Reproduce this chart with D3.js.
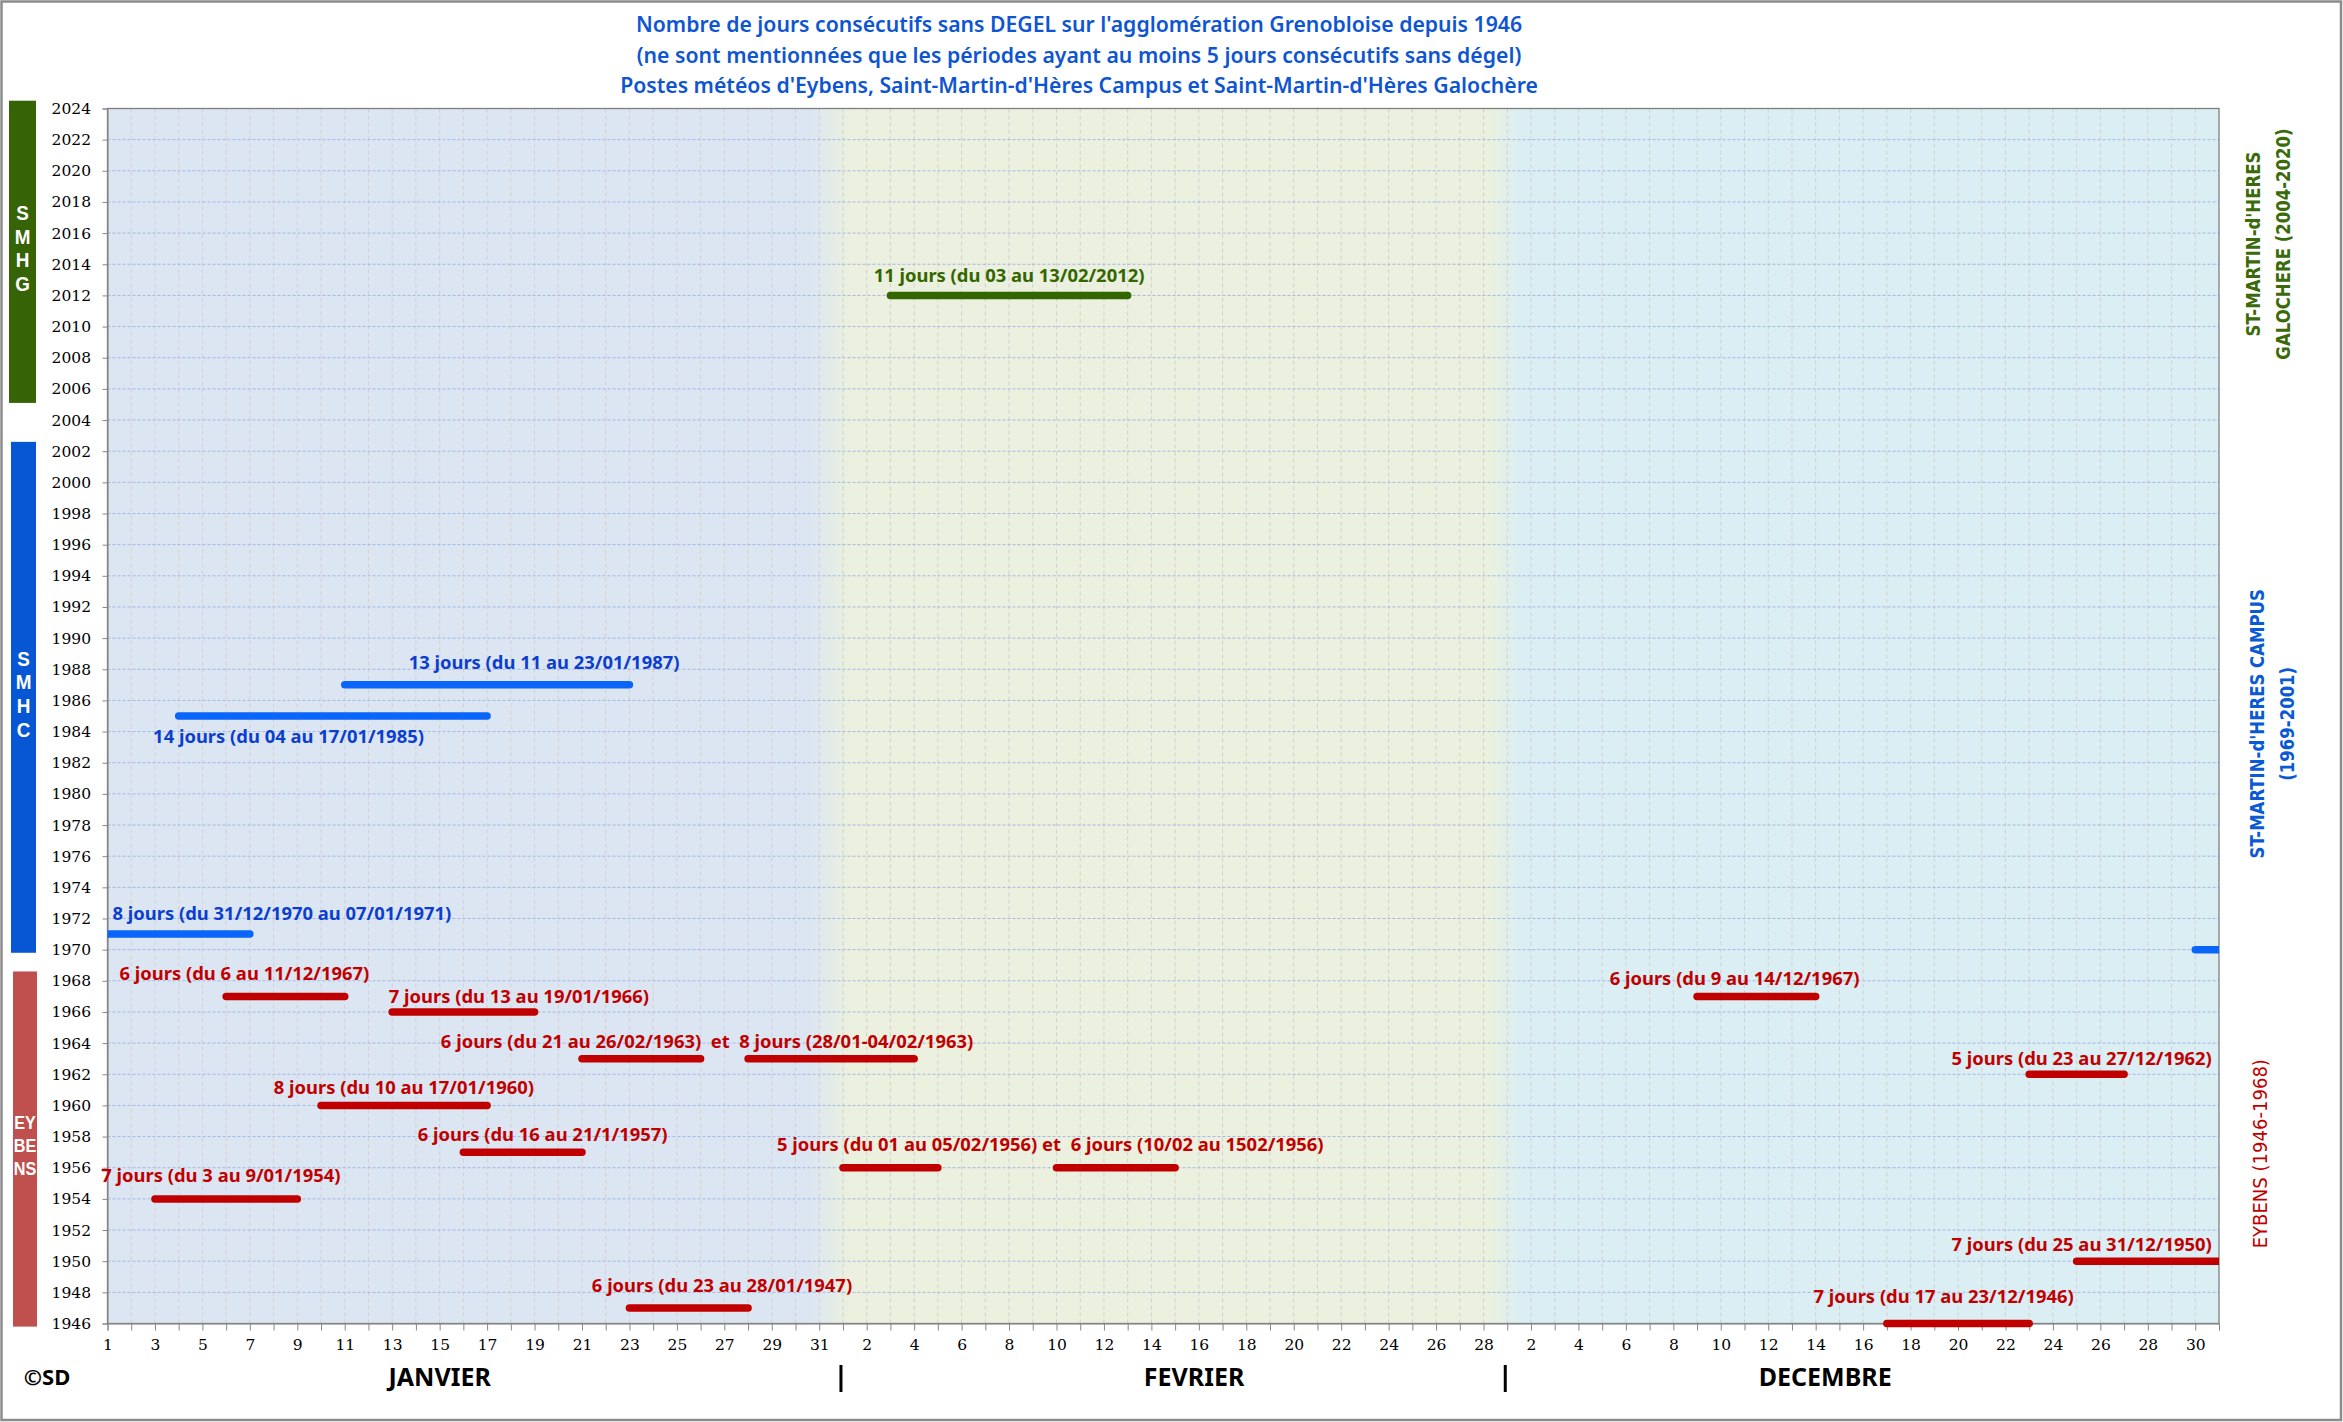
<!DOCTYPE html>
<html><head><meta charset="utf-8">
<script src="https://cdn.jsdelivr.net/npm/d3@7"></script>
<style>body{margin:0;background:#fff;} svg{display:block;} text{white-space:pre;}</style>
</head><body>
<svg id="chart" width="2343" height="1422"></svg>
<script>
// ---------------- DATA ----------------
const titleLines = [
  "Nombre de jours consécutifs sans DEGEL sur l'agglomération Grenobloise depuis 1946",
  "(ne sont mentionnées que les périodes ayant au moins 5 jours consécutifs sans dégel)",
  "Postes météos d'Eybens, Saint-Martin-d'Hères Campus et Saint-Martin-d'Hères Galochère"
];
const monthCodes = ["01", "02", "12"];
const monthNames = ["JANVIER", "FEVRIER", "DECEMBRE"];
const monthDays = [31, 28, 31];
const yearTicks = d3.range(1946, 2025, 2);

const stationCodes = ["SMHG", "SMHC", "EYBENS"];
const stationLetters = [["S", "M", "H", "G"], ["S", "M", "H", "C"], ["EY", "BE", "NS"]];
const stationNames = [
  ["ST-MARTIN-d'HERES", "GALOCHERE (2004-2020)"],
  ["ST-MARTIN-d'HERES CAMPUS", "(1969-2001)"],
  ["EYBENS (1946-1968)"]
];
const stationSpan = [[2005.1, 2024.5], [1969.8, 2002.6], [1945.8, 1968.6]];
const stationNameYear = [2015.3, 1984.5, 1956.9];

const smhgPeriods = [
  {year: 2012, from: "02-03", to: "02-13"}
];
const smhcPeriods = [
  {year: 1987, from: "01-11", to: "01-23"},
  {year: 1985, from: "01-04", to: "01-17"},
  {year: 1971, from: "01-00", to: "01-07"},
  {year: 1970, from: "12-30", to: "12-31"}
];
const eybensPeriods = [
  {year: 1967, from: "01-06", to: "01-11"},
  {year: 1967, from: "12-09", to: "12-14"},
  {year: 1966, from: "01-13", to: "01-19"},
  {year: 1963, from: "01-21", to: "01-26"},
  {year: 1963, from: "01-28", to: "02-04"},
  {year: 1962, from: "12-23", to: "12-27"},
  {year: 1960, from: "01-10", to: "01-17"},
  {year: 1957, from: "01-16", to: "01-21"},
  {year: 1956, from: "02-01", to: "02-05"},
  {year: 1956, from: "02-10", to: "02-15"},
  {year: 1954, from: "01-03", to: "01-09"},
  {year: 1950, from: "12-25", to: "12-31"},
  {year: 1947, from: "01-23", to: "01-28"},
  {year: 1946, from: "12-17", to: "12-23"}
];

const smhgLabels = [
  {text: "11 jours (du 03 au 13/02/2012)", day: 38.0, year: 2013.25}
];
const smhcLabels = [
  {text: "13 jours (du 11 au 23/01/1987)", day: 18.4, year: 1988.42},
  {text: "14 jours (du 04 au 17/01/1985)", day: 7.63, year: 1983.67},
  {text: "8 jours (du 31/12/1970 au 07/01/1971)", day: 7.35, year: 1972.29}
];
const eybensLabels = [
  {text: "6 jours (du 6 au 11/12/1967)", day: 5.77, year: 1968.44},
  {text: "7 jours (du 13 au 19/01/1966)", day: 17.34, year: 1966.98},
  {text: "6 jours (du 21 au 26/02/1963)  et  8 jours (28/01-04/02/1963)", day: 25.27, year: 1964.09},
  {text: "8 jours (du 10 au 17/01/1960)", day: 12.49, year: 1961.14},
  {text: "6 jours (du 16 au 21/1/1957)", day: 18.34, year: 1958.1},
  {text: "7 jours (du 3 au 9/01/1954)", day: 4.78, year: 1955.53},
  {text: "5 jours (du 01 au 05/02/1956) et  6 jours (10/02 au 1502/1956)", day: 39.74, year: 1957.46},
  {text: "6 jours (du 23 au 28/01/1947)", day: 25.9, year: 1948.43},
  {text: "6 jours (du 9 au 14/12/1967)", day: 68.58, year: 1968.12},
  {text: "5 jours (du 23 au 27/12/1962)", day: 83.21, year: 1962.98},
  {text: "7 jours (du 25 au 31/12/1950)", day: 83.21, year: 1951.04},
  {text: "7 jours (du 17 au 23/12/1946)", day: 77.39, year: 1947.72}
];
const monthLabelDay = [14, 45.8, 72.4];
const copyrightText = "©SD";

// ---------------- LAYOUT / STYLE ----------------
const W = 2343, H = 1422;
const P = {l: 107.5, r: 2219, t: 108.5, b: 1323.5};
const sideBarColor = ["#366306", "#0757D4", "#C0504D"];
const barColor = ["#336600", "#0A66FA", "#C00000"];
const labelColor = ["#336600", "#0B3ECF", "#C00000"];
const nameColor = ["#3A6B0A", "#0A5AD6", "#C00000"];
const nameWeight = ["bold", "bold", "normal"];
const nameScale = [0.87, 0.87, 0.95];
const sideBarX = [[9, 36], [11, 36], [13, 37]];
const nameX = [2268, 2272, 2260];
const SANS = "'Noto Sans', 'Open Sans', sans-serif";
const SERIF = "'DejaVu Serif', 'Liberation Serif', serif";

const monthStart = {};
let acc = 0;
monthCodes.forEach((m, i) => { monthStart[m] = acc; acc += monthDays[i]; });
const totalDays = acc;
function dayIndex(s) { const [m, d] = s.split("-"); return monthStart[m] + (+d) - 1; }
function dayOfMonth(i) {
  for (let k = monthCodes.length - 1; k >= 0; k--) if (i >= monthStart[monthCodes[k]]) return i - monthStart[monthCodes[k]] + 1;
}

const x = d3.scaleLinear().domain([0, totalDays - 1]).range([P.l, P.r]);
const y = d3.scaleLinear().domain([1946, 2024]).range([P.b, P.t]);

const svg = d3.select("#chart");
svg.append("rect").attr("width", W).attr("height", H).attr("fill", "#fff");

const defs = svg.append("defs");
const grad = defs.append("linearGradient").attr("id", "bg").attr("gradientUnits", "userSpaceOnUse")
  .attr("x1", P.l).attr("x2", P.r).attr("y1", 0).attr("y2", 0);
[[0, "#DCE6F2"], [29.6, "#DCE6F2"], [31.3, "#EBF1DE"], [58.2, "#EBF1DE"], [59.6, "#DAEEF3"], [totalDays - 1, "#DAEEF3"]]
  .forEach(([d, c]) => grad.append("stop").attr("offset", (x(d) - P.l) / (P.r - P.l)).attr("stop-color", c));
defs.append("clipPath").attr("id", "clip").append("rect")
  .attr("x", P.l).attr("y", 0).attr("width", P.r - P.l).attr("height", P.b + 10);

function txt(g, str, px, py, o) {
  let tr = `translate(${px},${py})`;
  if (o.rotate) tr += ` rotate(${o.rotate})`;
  if (o.sx) tr += ` scale(${o.sx},1)`;
  return g.append("text").attr("transform", tr)
    .attr("text-anchor", o.anchor || "middle").attr("dy", o.dy || "0.35em")
    .style("font-family", o.font || SANS).style("font-size", o.size + "px")
    .style("font-weight", o.weight || "normal").attr("fill", o.color || "#000").text(str);
}

// title
titleLines.forEach((t, i) => txt(svg, t, 1079, 25 + i * 30.5, {size: 21.2, weight: 600, color: "#0E55D2"}));

// plot background
svg.append("rect").attr("x", P.l).attr("y", P.t).attr("width", P.r - P.l).attr("height", P.b - P.t).attr("fill", "url(#bg)");

// grid
const grid = svg.append("g");
grid.selectAll("line.v").data(d3.range(1, totalDays - 1)).join("line")
  .attr("x1", d => x(d)).attr("x2", d => x(d)).attr("y1", P.t).attr("y2", P.b)
  .attr("stroke", "#D3CFD0").attr("stroke-width", 1).attr("stroke-dasharray", "4,3");
grid.selectAll("line.h").data(yearTicks.slice(1, -1)).join("line")
  .attr("x1", P.l).attr("x2", P.r).attr("y1", d => y(d)).attr("y2", d => y(d))
  .attr("stroke", "#A3B7E7").attr("stroke-width", 1).attr("stroke-dasharray", "3,2");

// plot border
svg.append("rect").attr("x", P.l).attr("y", P.t).attr("width", P.r - P.l).attr("height", P.b - P.t)
  .attr("fill", "none").attr("stroke", "#7F7F7F").attr("stroke-width", 1.3);

// axes
const yAxis = svg.append("g").attr("transform", `translate(${P.l},0)`)
  .call(d3.axisLeft(y).tickValues(yearTicks).tickFormat(d3.format("d")).tickSize(5).tickPadding(11.5));
yAxis.selectAll("text").style("font-family", SERIF).style("font-size", "15.5px").attr("fill", "#000");
const xAxis = svg.append("g").attr("transform", `translate(0,${P.b})`)
  .call(d3.axisBottom(x).tickValues(d3.range(0, totalDays)).tickFormat(i => i % 2 === 0 ? dayOfMonth(i) : "").tickSize(7));
xAxis.selectAll("text").attr("y", 20.5).attr("dy", "0.36em").style("font-family", SERIF).style("font-size", "15.5px").attr("fill", "#000");
[yAxis, xAxis].forEach(a => { a.selectAll("path,line").attr("stroke", "#868686"); });

// month labels and separators
monthNames.forEach((m, i) => txt(svg, m, x(monthLabelDay[i]), 1377, {size: 25, weight: "bold"}));
monthCodes.slice(1).forEach(m => {
  const sx = x(monthStart[m]) - 2;
  svg.append("line").attr("x1", sx).attr("x2", sx).attr("y1", 1365).attr("y2", 1392)
    .attr("stroke", "#000").attr("stroke-width", 3);
});
txt(svg, copyrightText, 47, 1377, {size: 22, weight: "bold"});

// station side bars
stationCodes.forEach((s, i) => {
  const [a, b] = stationSpan[i];
  svg.append("rect").attr("x", sideBarX[i][0]).attr("width", sideBarX[i][1] - sideBarX[i][0])
    .attr("y", y(b)).attr("height", y(a) - y(b)).attr("fill", sideBarColor[i]);
  const letters = stationLetters[i];
  const cx = (sideBarX[i][0] + sideBarX[i][1]) / 2;
  const cy = (y(a) + y(b)) / 2 - 3.5;
  const step = letters.length === 4 ? 23.6 : 22.8;
  letters.forEach((L, k) => txt(svg, L, cx, cy + (k - (letters.length - 1) / 2) * step,
    {size: letters.length === 4 ? 21 : 18, weight: "bold", color: "#fff", font: "'Liberation Sans', Arial, sans-serif", sx: 0.9}));
  // right-side names
  const names = stationNames[i];
  names.forEach((n, k) => txt(svg, n, nameX[i] + (k - (names.length - 1) / 2) * 30, y(stationNameYear[i]),
    {size: 19, weight: nameWeight[i], color: nameColor[i], font: "'DejaVu Sans', Verdana, sans-serif", rotate: -90, sx: nameScale[i], dy: "0.36em"}));
});

// period bars
const bars = svg.append("g").attr("clip-path", "url(#clip)");
[smhgPeriods, smhcPeriods, eybensPeriods].forEach((arr, i) => {
  bars.selectAll(null).data(arr).join("line")
    .attr("x1", d => x(dayIndex(d.from))).attr("x2", d => x(dayIndex(d.to)))
    .attr("y1", d => y(d.year)).attr("y2", d => y(d.year))
    .attr("stroke", barColor[i]).attr("stroke-width", 7.5).attr("stroke-linecap", "round");
});

// period labels
[smhgLabels, smhcLabels, eybensLabels].forEach((arr, i) => {
  arr.forEach(d => txt(svg, d.text, x(d.day), y(d.year), {size: 18.4, weight: "bold", color: labelColor[i]}));
});

// outer frame
svg.append("rect").attr("x", 1.5).attr("y", 1.5).attr("width", W - 3.5).attr("height", H - 3.5)
  .attr("fill", "none").attr("stroke", "#8C8C8C").attr("stroke-width", 2.5);
</script>
</body></html>
